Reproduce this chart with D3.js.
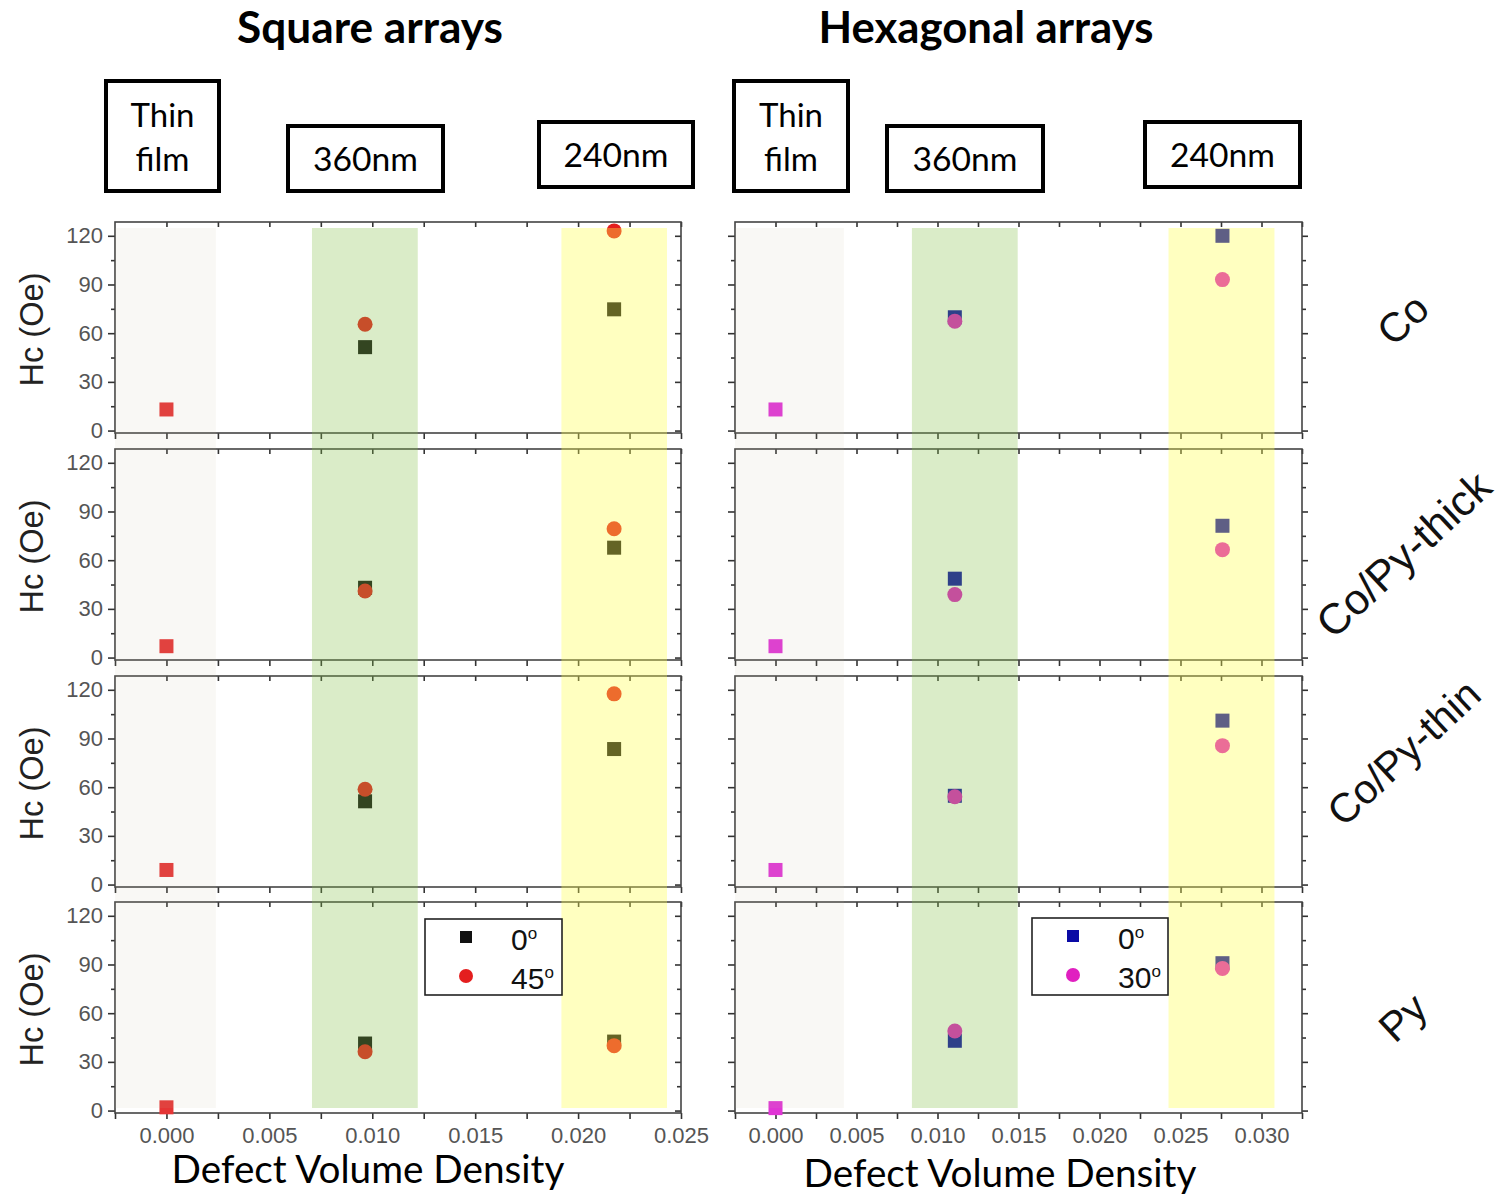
<!DOCTYPE html>
<html>
<head>
<meta charset="utf-8">
<script src="https://cdn.jsdelivr.net/npm/d3@7"></script>
<style>
  html, body { margin: 0; padding: 0; background: #fff; }
  svg { display: block; }
</style>
</head>
<body>
<svg id="chart" width="1506" height="1195"></svg>
<script>
// ---------------- DATA ----------------
const rowNames = ["Co", "Co/Py-thick", "Co/Py-thin", "Py"];
const columnTitles = ["Square arrays", "Hexagonal arrays"];
const groupLabels = ["Thin film", "360nm", "240nm"];

// defect volume density of thin film, 360nm, 240nm
const squareDensity = [0.0, 0.00965, 0.02175];
const hexDensity = [0.0, 0.01107, 0.02759];

// Hc (Oe) per row (Co, Co/Py-thick, Co/Py-thin, Py), per group
const square0 = [[13, 51.4, 74.7], [7, 43, 67.7], [9, 51.3, 83.5], [2, 41.3, 42.5]];
const square45 = [[13, 65.5, 123], [7, 41, 79.4], [9, 58.7, 117.5], [2, 36.2, 40]];
const hex0 = [[13, 69.8, 120], [7, 48.6, 81.2], [9, 54.7, 101], [1.5, 43, 90.8]];
const hex30 = [[13, 67.4, 93], [7, 38.8, 66.5], [9, 54.1, 85.6], [1.5, 49, 87.6]];

// shaded density ranges: thin film, 360nm, 240nm
const squareBands = [[-0.0025, 0.0024], [0.00707, 0.01221], [0.01919, 0.02432]];
const hexBands = [[-0.0025, 0.00422], [0.00842, 0.01495], [0.02426, 0.0308]];

const squareXTicks = [0, 0.005, 0.010, 0.015, 0.020, 0.025];
const hexXTicks = [0, 0.005, 0.010, 0.015, 0.020, 0.025, 0.030];
const yTicks = [0, 30, 60, 90, 120];
const yMinorTicks = [15, 45, 75, 105];

const squareLegend = ["0", "45"];
const hexLegend = ["0", "30"];

// ---------------- LAYOUT ----------------
const svg = d3.select("#chart");
const numFont = "'Liberation Sans', Arial, sans-serif";
const calFont = "Lato, 'Open Sans', sans-serif";

const cols = [
  { x0: 115, x1: 681, domain: [-0.0025, 0.025], dens: squareDensity, s0: square0, s1: square45,
    c0: "#111111", c1: "#e41e1e", thin: "#e53535", bands: squareBands, ticks: squareXTicks, legend: squareLegend,
    legendBox: [425, 919, 137, 76] },
  { x0: 735, x1: 1302, domain: [-0.0025, 0.0325], dens: hexDensity, s0: hex0, s1: hex30,
    c0: "#0a0aa5", c1: "#e020c0", thin: "#e035d5", bands: hexBands, ticks: hexXTicks, legend: hexLegend,
    legendBox: [1032, 918, 136, 77] }
];
const rowTop = [222, 449, 676, 902];
const rowH = 211;
const bandTop = 228, bandBottom = 1108;
const bandColors = ["rgba(195,185,155,0.1)", "rgba(132,192,72,0.3)", "rgba(255,255,75,0.35)"];
const axisColor = "#444";

function fitWidth(sel, w) {
  const len = sel.node().getComputedTextLength();
  const fs = parseFloat(sel.attr("font-size"));
  sel.attr("font-size", fs * w / len);
}

cols.forEach((col, ci) => {
  const x = d3.scaleLinear().domain(col.domain).range([col.x0, col.x1]);
  const xAll = d3.range(col.domain[0], col.domain[1] + 1e-9, 0.0025);

  rowNames.forEach((rn, ri) => {
    const top = rowTop[ri], bottom = top + rowH;
    const y = d3.scaleLinear().domain([-1.5, 128.5]).range([bottom, top]);
    const g = svg.append("g");

    // bottom axis
    g.append("g").attr("transform", `translate(0,${bottom})`)
      .call(d3.axisBottom(x).tickValues(xAll).tickSize(6).tickFormat(""));
    if (ri === rowNames.length - 1) {
      g.append("g").attr("transform", `translate(0,${bottom})`)
        .call(d3.axisBottom(x).tickValues(col.ticks).tickSize(0).tickPadding(14).tickFormat(d3.format(".3f")))
        .call(a => a.selectAll("text").attr("font-size", 22).attr("font-family", numFont).attr("fill", "#555"))
        .call(a => a.select(".domain").remove());
    }
    // top axis (inward ticks)
    g.append("g").attr("transform", `translate(0,${top})`)
      .call(d3.axisTop(x).tickValues(xAll.filter(v => v > col.domain[0] + 1e-9)).tickSize(-5).tickFormat(""));

    // left axis
    const leftMaj = g.append("g").attr("transform", `translate(${col.x0},0)`)
      .call(d3.axisLeft(y).tickValues(yTicks).tickSize(7).tickPadding(5)
        .tickFormat(ci === 0 ? d3.format("d") : ""));
    leftMaj.selectAll("text").attr("font-size", 22).attr("font-family", numFont).attr("fill", "#555");
    g.append("g").attr("transform", `translate(${col.x0},0)`)
      .call(d3.axisLeft(y).tickValues(yMinorTicks).tickSize(4).tickFormat(""));

    // right axis
    const rs = ci === 0 ? -6 : 6, rsm = ci === 0 ? -4 : 4;
    g.append("g").attr("transform", `translate(${col.x1},0)`)
      .call(d3.axisRight(y).tickValues(yTicks).tickSize(rs).tickFormat(""));
    g.append("g").attr("transform", `translate(${col.x1},0)`)
      .call(d3.axisRight(y).tickValues(yMinorTicks).tickSize(rsm).tickFormat(""));

    g.selectAll(".domain").remove();
    g.selectAll(".tick line").attr("stroke", "#333").attr("stroke-width", 1.6);

    // frame
    g.append("rect").attr("x", col.x0).attr("y", top).attr("width", col.x1 - col.x0).attr("height", rowH)
      .attr("fill", "none").attr("stroke", axisColor).attr("stroke-width", 1.6);

    // markers: 0 deg squares
    const sz = 14;
    g.selectAll(".sq").data(col.s0[ri]).enter().append("rect")
      .attr("x", (d, i) => x(col.dens[i]) - sz / 2).attr("y", d => y(d) - sz / 2)
      .attr("width", sz).attr("height", sz)
      .attr("fill", (d, i) => i === 0 ? col.thin : col.c0);
    // second angle circles (thin film shown as one square)
    g.selectAll(".ci").data(col.s1[ri]).enter().filter((d, i) => i > 0).append("circle")
      .attr("cx", (d, i) => x(col.dens[i + 1])).attr("cy", d => y(d)).attr("r", 7.5)
      .attr("fill", col.c1);

    if (ci === 0) {
      const t = svg.append("text").attr("transform", `translate(43,${top + rowH / 2 + 2}) rotate(-90)`)
        .attr("text-anchor", "middle").attr("font-family", numFont).attr("font-size", 30)
        .attr("fill", "#222").text("Hc (Oe)");
      fitWidth(t, 114);
    }
  });

  // shaded bands (translucent overlay)
  svg.append("g").selectAll("rect").data(col.bands).enter().append("rect")
    .attr("x", d => x(d[0])).attr("width", d => x(d[1]) - x(d[0]))
    .attr("y", bandTop).attr("height", bandBottom - bandTop)
    .attr("fill", (d, i) => bandColors[i]);

  // legend in last row
  const [lx, ly, lw, lh] = col.legendBox;
  const lg = svg.append("g");
  lg.append("rect").attr("x", lx).attr("y", ly).attr("width", lw).attr("height", lh)
    .attr("fill", "#fff").attr("stroke", "#222").attr("stroke-width", 1.6);
  lg.append("rect").attr("x", lx + 35).attr("y", ly + 12).attr("width", 12).attr("height", 12).attr("fill", col.c0);
  lg.append("circle").attr("cx", lx + 41).attr("cy", ly + 57).attr("r", 7).attr("fill", col.c1);
  col.legend.forEach((lab, i) => {
    const t = lg.append("text").attr("x", lx + 86).attr("y", ly + 31 + i * 39)
      .attr("font-family", numFont).attr("font-size", 30).attr("fill", "#111");
    t.append("tspan").text(lab);
    t.append("tspan").attr("dy", -11).attr("font-size", 17).text("o");
  });

  // column title
  const cx = ci === 0 ? 370 : 986;
  const tt = svg.append("text").attr("x", cx).attr("y", 43).attr("text-anchor", "middle")
    .attr("font-family", calFont).attr("font-weight", "bold").attr("font-size", 36).attr("fill", "#000")
    .text(columnTitles[ci]);
  fitWidth(tt, ci === 0 ? 266 : 335);

  // x label
  const xl = svg.append("text").attr("x", ci === 0 ? 368 : 1000).attr("y", ci === 0 ? 1183 : 1187)
    .attr("text-anchor", "middle").attr("font-family", calFont).attr("font-size", 36).attr("fill", "#000")
    .text("Defect Volume Density");
  fitWidth(xl, 393);

  // group boxes
  const boxes = ci === 0
    ? [[106, 81, 113, 110], [288, 126, 155, 65], [539, 122, 154, 65]]
    : [[734, 81, 114, 110], [887, 126, 156, 65], [1145, 122, 155, 65]];
  boxes.forEach((b, i) => {
    svg.append("rect").attr("x", b[0]).attr("y", b[1]).attr("width", b[2]).attr("height", b[3])
      .attr("fill", "none").attr("stroke", "#000").attr("stroke-width", 4);
    const mx = b[0] + b[2] / 2;
    if (i === 0) {
      const words = groupLabels[0].split(" ");
      words.forEach((w, k) => {
        svg.append("text").attr("x", mx).attr("y", b[1] + 46 + k * 44).attr("text-anchor", "middle")
          .attr("font-family", calFont).attr("font-size", 33).attr("fill", "#000").text(w);
      });
    } else {
      const t = svg.append("text").attr("x", mx).attr("y", b[1] + 45).attr("text-anchor", "middle")
        .attr("font-family", calFont).attr("font-size", 33).attr("fill", "#000").text(groupLabels[i]);
      fitWidth(t, 105);
    }
  });
});

// row labels on the right
const rowLabelPos = [[1405, 322, 64], [1406, 557, 220], [1406, 755, 206], [1405, 1020, 55]];
rowNames.forEach((rn, i) => {
  const [px, py, w] = rowLabelPos[i];
  const t = svg.append("text").attr("transform", `translate(${px},${py}) rotate(-43)`)
    .attr("text-anchor", "middle").attr("dominant-baseline", "middle")
    .attr("font-family", numFont).attr("font-size", 41).attr("fill", "#111").text(rn);
  if (i === 1) fitWidth(t, w);
});
</script>
</body>
</html>
